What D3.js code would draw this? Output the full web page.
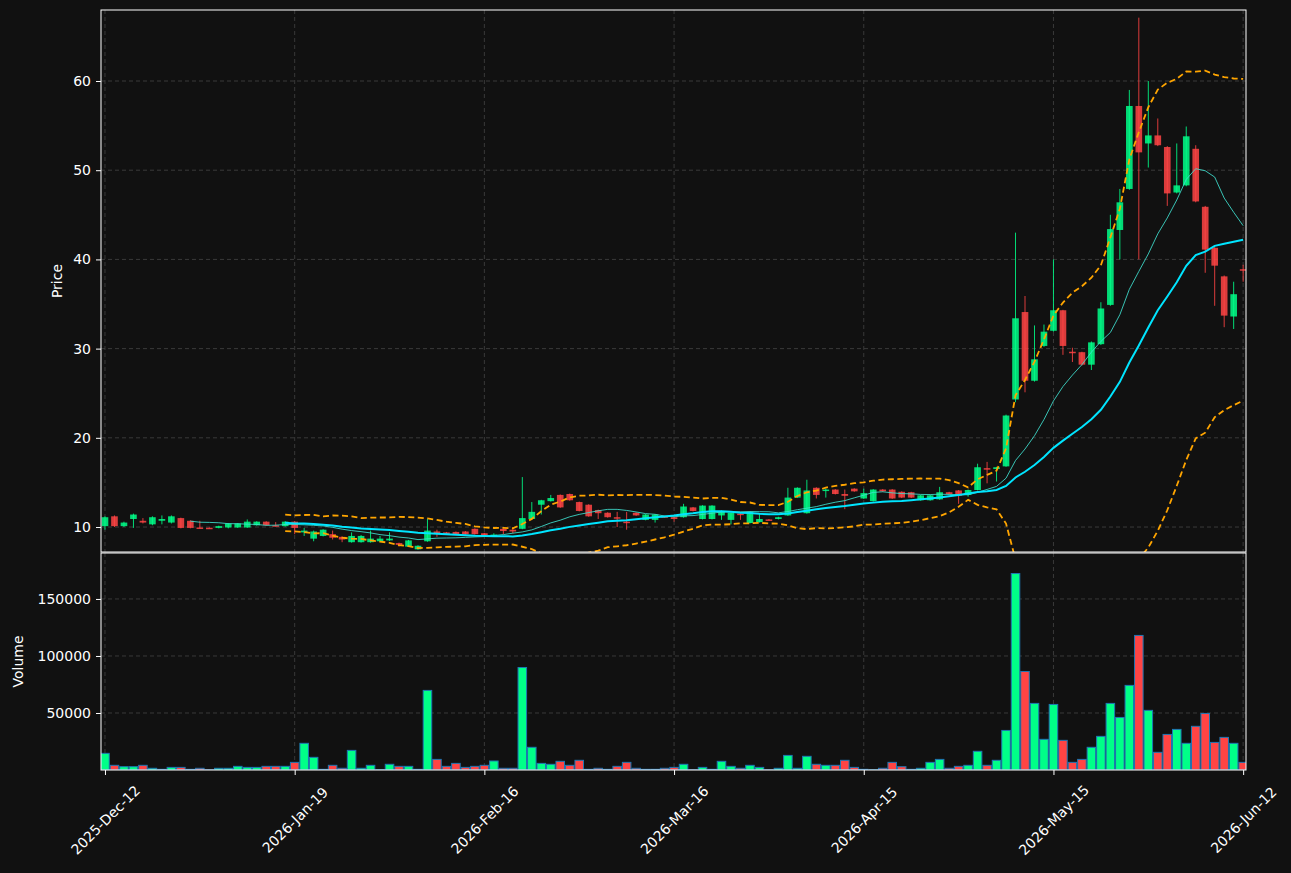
<!DOCTYPE html>
<html>
<head>
<meta charset="utf-8">
<script src="https://cdn.jsdelivr.net/npm/d3@7"></script>
<style>
body { margin: 0; background: #111111; }
text { font-family: "DejaVu Sans", sans-serif; }
</style>
</head>
<body>
<svg id="chart" width="1291" height="873"></svg>
<script>
// values, one entry per bar
var opens = [10.1,11.2,10.1,10.9,10.7,10.3,10.7,10.5,11.0,10.7,9.95,9.92,9.9,9.95,9.95,9.95,10.2,10.6,10.2,10.1,
	10.6,9.4,8.7,9.0,9.2,8.9,8.3,8.3,8.3,8.4,8.5,8.2,7.8,7.5,8.4,9.5,9.4,9.45,9.5,9.8,
	9.3,9.0,9.8,9.7,9.8,10.9,12.5,12.9,13.6,13.7,12.8,12.5,11.9,11.6,11.1,10.6,11.6,10.8,10.8,11.2,
	11.1,11.1,12.2,10.9,10.9,11.3,10.8,11.5,10.45,10.55,10.85,10.9,11.3,13.3,11.55,14.4,14.1,14.2,13.7,14.3,
	13.2,12.9,14.2,14.2,13.95,13.9,13.0,13.0,13.1,13.9,14.1,13.6,14.15,16.6,16.5,16.8,24.3,34.1,26.4,30.3,
	32.0,34.3,29.65,29.6,28.2,30.5,34.9,43.3,47.9,57.2,53.0,53.9,52.6,47.5,48.3,52.4,45.9,41.3,38.1,33.6,38.9];
var highs = [11.2,11.3,10.6,11.5,11.0,11.2,11.3,11.3,11.05,10.75,10.7,9.95,10.15,10.45,10.45,10.85,10.65,10.65,10.55,10.65,
	10.65,9.9,9.6,9.75,9.6,8.95,9.4,9.1,9.6,9.0,9.4,8.25,8.55,7.95,10.9,9.7,9.45,9.5,9.55,9.85,
	9.35,9.3,9.85,9.75,15.6,12.8,13.05,13.6,13.65,13.75,12.85,12.55,11.95,11.65,11.7,11.7,11.65,11.45,11.45,11.25,
	11.15,12.6,12.25,12.45,12.45,11.85,11.65,11.55,11.75,11.5,10.9,11.15,14.4,14.45,15.3,14.45,14.3,14.25,14.2,14.35,
	14.3,14.25,14.25,14.25,14.0,13.95,13.6,13.6,14.5,13.95,14.15,14.2,17.1,17.3,16.75,22.6,43.0,35.9,32.6,32.7,
	40.0,34.35,30.1,29.65,30.8,35.2,45.0,47.9,59.0,67.1,60.0,55.8,52.7,53.0,54.9,52.8,46.0,41.4,38.2,37.5,39.4];
var lows = [9.7,10.0,10.0,9.9,10.4,10.2,10.3,10.4,9.85,9.85,9.85,9.85,9.85,9.85,9.9,9.9,10.15,10.15,10.05,10.05,
	9.2,9.0,8.4,8.95,8.6,8.3,8.25,8.25,8.25,8.35,8.45,7.8,7.75,7.45,8.35,8.9,9.15,9.15,9.15,9.15,
	9.05,8.95,9.2,9.3,9.75,10.85,11.4,12.85,12.15,12.95,11.75,11.15,10.9,11.05,10.0,9.7,11.25,10.75,10.5,11.05,
	10.6,11.05,11.75,10.85,10.85,10.8,10.3,10.8,10.4,10.5,10.75,10.85,11.25,13.25,11.5,13.2,13.3,13.65,12.0,13.95,
	13.15,12.85,13.95,13.15,13.25,13.25,12.95,12.95,13.05,13.65,12.6,13.4,14.1,14.9,15.1,16.75,24.0,25.1,26.3,30.2,
	31.9,29.3,28.5,28.1,27.6,30.4,34.8,40.0,47.8,40.0,50.3,52.7,46.0,47.4,48.2,46.4,38.5,34.8,32.4,32.2,37.5];
var closes = [11.1,10.1,10.5,11.4,10.5,11.1,10.9,11.2,9.9,9.9,9.9,9.88,10.1,10.4,10.4,10.6,10.6,10.2,10.1,10.6,
	9.9,9.6,9.5,9.7,8.8,8.6,9.0,9.0,8.7,8.7,8.7,8.0,8.5,7.9,9.6,9.4,9.2,9.2,9.2,9.2,
	9.1,9.15,9.55,9.5,11.0,11.7,13.0,13.25,12.2,13.0,11.8,11.2,11.55,11.1,11.0,10.5,11.3,11.4,11.4,11.1,
	10.9,12.3,11.8,12.4,12.4,11.8,11.6,11.4,11.7,10.9,10.8,11.1,13.3,14.4,14.1,13.6,14.2,13.7,13.5,14.0,
	13.8,14.2,14.0,13.2,13.3,13.3,13.55,13.55,13.9,13.7,13.5,14.15,16.7,16.5,16.7,22.5,33.4,26.4,28.8,31.9,
	34.3,30.3,29.55,28.2,30.7,34.5,43.4,46.4,57.2,52.0,53.9,52.8,47.4,48.3,53.8,46.5,41.1,39.3,33.7,36.1,38.8];
var volumes = [14600,4100,2900,2900,4100,1500,600,2300,2300,600,1500,200,1500,1500,3200,2300,2300,3200,3200,3200,
	6700,23400,11100,600,4100,1500,17200,1500,4100,200,5000,3200,3200,600,69800,9300,3200,5800,2300,3200,
	4100,7900,1500,1500,89900,19900,5800,5000,7600,4100,8500,600,1500,600,3200,6700,1500,600,600,1500,
	2300,5000,200,2300,600,7600,3200,1500,4100,2300,200,1500,12800,1500,12000,5000,4100,4100,8500,2300,
	600,200,1500,6700,2900,600,1500,6700,9300,1500,3200,4100,16400,4100,8500,34700,172300,86400,58400,26900,
	57500,26000,6700,9300,19900,29500,58400,46100,74200,118000,52300,15500,31200,35600,23400,38300,49600,24200,28600,23400,6700];
var tickIndex = [0, 20, 40, 60, 80, 100, 120];
var tickLabels = ['2025-Dec-12', '2026-Jan-19', '2026-Feb-16', '2026-Mar-16', '2026-Apr-15', '2026-May-15', '2026-Jun-12'];
var priceTicks = [10, 20, 30, 40, 50, 60];
var volumeTicks = [50000, 100000, 150000];

var up = '#00ff88', down = '#ff4444';
var svg = d3.select('#chart');
var left = 101, right = 1246, pTop = 10, pBot = 552, vTop = 553, vBot = 770;

var x = d3.scaleLinear().domain([-0.42, 120.3]).range([left, right]);
var y = d3.scaleLinear().domain([7.2, 67.96]).range([pBot, pTop]);
var yv = d3.scaleLinear().domain([0, 190300]).range([vBot, vTop]);
var bw = x(1) - x(0);

svg.append('rect').attr('width', 1291).attr('height', 873).attr('fill', '#111111');

var defs = svg.append('defs');
defs.append('clipPath').attr('id', 'pclip').append('rect')
	.attr('x', left).attr('y', pTop).attr('width', right - left).attr('height', pBot - pTop);
defs.append('clipPath').attr('id', 'vclip').append('rect')
	.attr('x', left).attr('y', vTop).attr('width', right - left).attr('height', vBot - vTop);

// grids
var grid = svg.append('g').attr('stroke', '#444').attr('stroke-dasharray', '4,3').attr('stroke-width', 0.8);
priceTicks.forEach(function(t) {
	grid.append('line').attr('x1', left).attr('x2', right).attr('y1', y(t)).attr('y2', y(t));
});
volumeTicks.forEach(function(t) {
	grid.append('line').attr('x1', left).attr('x2', right).attr('y1', yv(t)).attr('y2', yv(t));
});
tickIndex.forEach(function(t) {
	grid.append('line').attr('x1', x(t)).attr('x2', x(t)).attr('y1', pTop).attr('y2', pBot);
	grid.append('line').attr('x1', x(t)).attr('x2', x(t)).attr('y1', vTop).attr('y2', vBot);
});

var idx = d3.range(closes.length);

// candles
var pg = svg.append('g').attr('clip-path', 'url(#pclip)');
pg.selectAll('line.wick').data(idx).enter().append('line')
	.attr('x1', function(i) { return x(i); }).attr('x2', function(i) { return x(i); })
	.attr('y1', function(i) { return y(highs[i]); }).attr('y2', function(i) { return y(lows[i]); })
	.attr('stroke', function(i) { return closes[i] >= opens[i] ? up : down; })
	.attr('stroke-width', 1).attr('opacity', 0.85);
pg.selectAll('rect.body').data(idx).enter().append('rect')
	.attr('x', function(i) { return x(i) - bw * 0.35; })
	.attr('width', bw * 0.7)
	.attr('y', function(i) { return y(Math.max(opens[i], closes[i])); })
	.attr('height', function(i) { return Math.max(1.5, Math.abs(y(opens[i]) - y(closes[i]))); })
	.attr('fill', function(i) { return closes[i] >= opens[i] ? up : down; })
	.attr('opacity', 0.85);

// moving averages and bands from closes
function sma(n) {
	return idx.map(function(i) { return i < n - 1 ? null : d3.mean(closes.slice(i - n + 1, i + 1)); });
}
var ma10 = sma(10), ma20 = sma(20);
var sd20 = idx.map(function(i) { return i < 19 ? null : d3.deviation(closes.slice(i - 19, i + 1)) * Math.sqrt(19 / 20); });
var upper = idx.map(function(i) { return ma20[i] == null ? null : ma20[i] + 2 * sd20[i]; });
var lower = idx.map(function(i) { return ma20[i] == null ? null : ma20[i] - 2 * sd20[i]; });

function path(arr) {
	return d3.line().defined(function(i) { return arr[i] != null; })
		.x(function(i) { return x(i); }).y(function(i) { return y(arr[i]); })(idx);
}
pg.append('path').attr('d', path(upper)).attr('fill', 'none').attr('stroke', '#ffa500').attr('stroke-width', 1.8).attr('stroke-dasharray', '6,3.5');
pg.append('path').attr('d', path(lower)).attr('fill', 'none').attr('stroke', '#ffa500').attr('stroke-width', 1.8).attr('stroke-dasharray', '6,3.5');
pg.append('path').attr('d', path(ma10)).attr('fill', 'none').attr('stroke', '#40e0d0').attr('stroke-width', 1).attr('opacity', 0.85);
pg.append('path').attr('d', path(ma20)).attr('fill', 'none').attr('stroke', '#00e5ff').attr('stroke-width', 2);

// volume
var vg = svg.append('g').attr('clip-path', 'url(#vclip)');
vg.selectAll('rect').data(idx).enter().append('rect')
	.attr('x', function(i) { return x(i) - bw * 0.45; })
	.attr('width', bw * 0.9)
	.attr('y', function(i) { return yv(volumes[i]); })
	.attr('height', function(i) { return vBot - yv(volumes[i]); })
	.attr('fill', function(i) { return closes[i] >= opens[i] ? up : down; })
	.attr('stroke', '#1f77b4').attr('stroke-width', 1);

// axes
function styleAxis(g) {
	g.select('.domain').remove();
	g.selectAll('line').attr('stroke', '#fff');
	g.selectAll('text').attr('fill', '#fff').style('font-size', '14px').style('font-family', 'DejaVu Sans');
}
svg.append('g').attr('transform', 'translate(' + left + ',0)')
	.call(d3.axisLeft(y).tickValues(priceTicks).tickSize(5).tickPadding(5)).call(styleAxis);
svg.append('g').attr('transform', 'translate(' + left + ',0)')
	.call(d3.axisLeft(yv).tickValues(volumeTicks).tickSize(5).tickPadding(5).tickFormat(d3.format('d'))).call(styleAxis);
var xa = svg.append('g').attr('transform', 'translate(0,' + vBot + ')')
	.call(d3.axisBottom(x).tickValues(tickIndex).tickSize(5).tickFormat(function(d, i) { return tickLabels[i]; }))
	.call(styleAxis);
xa.selectAll('text').attr('text-anchor', 'middle').attr('y', 0).attr('dy', '0.35em')
	.attr('transform', 'translate(0,50) rotate(-45)');

// frames
var frame = svg.append('g').attr('fill', 'none').attr('stroke', '#fff').attr('stroke-width', 1);
frame.append('rect').attr('x', left).attr('y', pTop).attr('width', right - left).attr('height', pBot - pTop);
frame.append('rect').attr('x', left).attr('y', vTop).attr('width', right - left).attr('height', vBot - vTop);

svg.append('text').attr('transform', 'translate(62,' + ((pTop + pBot) / 2) + ') rotate(-90)')
	.attr('text-anchor', 'middle').attr('fill', '#fff').style('font-size', '14px').text('Price');
svg.append('text').attr('transform', 'translate(23,' + ((vTop + vBot) / 2) + ') rotate(-90)')
	.attr('text-anchor', 'middle').attr('fill', '#fff').style('font-size', '14px').text('Volume');
</script>
</body>
</html>
